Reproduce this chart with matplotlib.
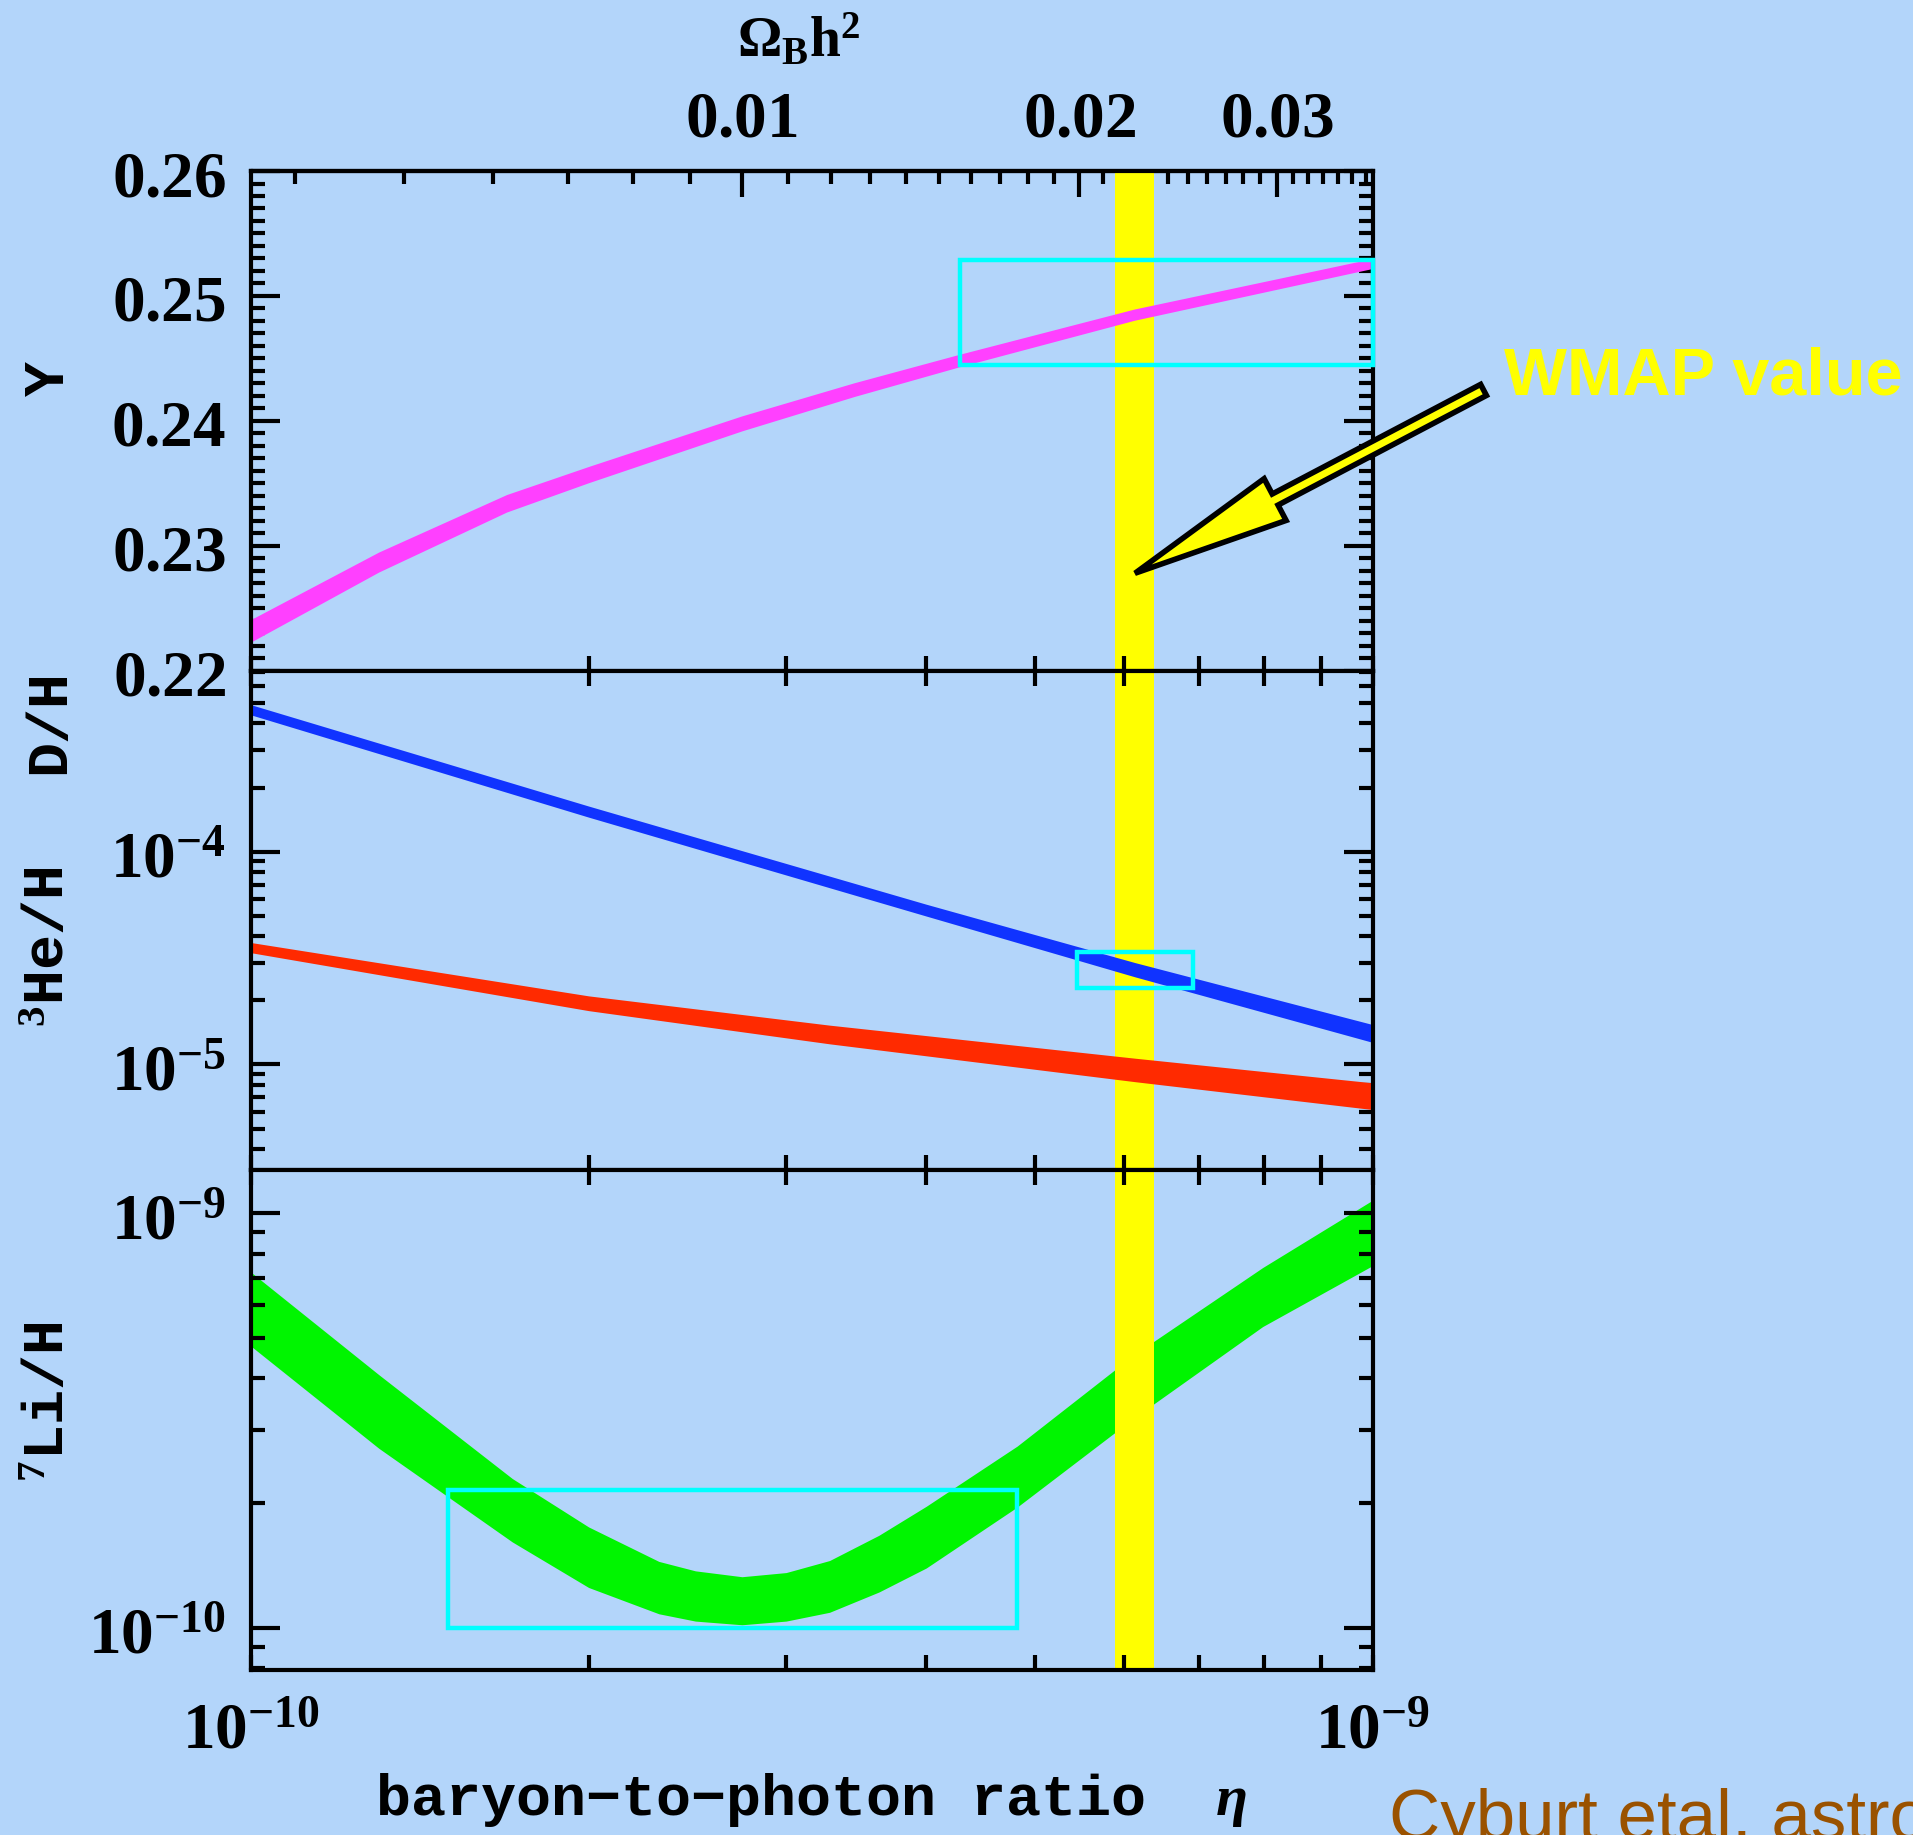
import matplotlib

matplotlib.use("Agg")

import matplotlib.pyplot as plt
import numpy as np
from matplotlib.patches import Rectangle
from matplotlib.ticker import FixedLocator, FuncFormatter, LogLocator, MultipleLocator, NullFormatter

# baryon-to-photon ratio eta is given in units of 1e-10 throughout
ETA_UNIT = 1e-10
ETA_PER_OMEGA = 273.9e-10  # eta = 273.9e-10 * Omega_B h^2

# 4He mass fraction Y (band centre and half width)
eta_he4 = [1.0, 1.3, 1.69, 2.0, 2.74, 3.45, 4.27, 6.13, 10.0]
Y_mid = [0.2232, 0.2287, 0.2334, 0.2357, 0.2398, 0.2425, 0.2448, 0.2485, 0.2526]
Y_err = [0.0009, 0.0008, 0.0007, 0.00065, 0.0006, 0.00055, 0.0005, 0.00045, 0.0004]

# D/H band edges
eta_d = [1.0, 2.0, 4.0, 6.14, 10.0]
DH_lo = [4.39e-4, 1.452e-4, 4.98e-5, 2.58e-5, 1.27e-5]
DH_hi = [4.90e-4, 1.637e-4, 5.66e-5, 3.01e-5, 1.54e-5]

# 3He/H band edges
eta_he3 = [1.0, 2.0, 3.28, 6.14, 10.0]
He3_lo = [3.35e-5, 1.79e-5, 1.25e-5, 8.30e-6, 6.14e-6]
He3_hi = [3.74e-5, 2.10e-5, 1.53e-5, 1.07e-5, 8.20e-6]

# 7Li/H band edges, units of 1e-10
eta_li = [1.0, 1.3, 1.71, 2.0, 2.31, 2.49, 2.74, 3.0, 3.28, 3.63, 4.0, 4.82, 6.13, 7.98, 10.0]
Li_lo = [4.78, 2.71, 1.61, 1.25, 1.08, 1.037, 1.016, 1.037, 1.089, 1.219, 1.393, 1.954,
         3.21, 5.33, 7.48]
Li_hi = [7.21, 4.08, 2.29, 1.75, 1.445, 1.371, 1.327, 1.358, 1.452, 1.671, 1.963, 2.742,
         4.56, 7.40, 10.76]

# WMAP eta and its error
wmap_eta = 6.14
wmap_err = 0.25

# observed abundance boxes: eta range (1e-10) and abundance range
Y_box_eta = [4.29, 10.0]
Y_box_val = [0.2445, 0.2529]
DH_box_eta = [5.45, 6.92]
DH_box_val = [2.29e-5, 3.36e-5]
Li_box_eta = [1.497, 4.82]
Li_box_val = [1.0e-10, 2.15e-10]

omega_major = [0.01, 0.02, 0.03]
omega_minor = [k / 1000 for k in range(4, 37)]

BG = "#b3d5fa"
C_Y = "#ff40ff"
C_D = "#1033ff"
C_HE3 = "#ff2a00"
C_LI = "#00f500"
C_WMAP = "#ffff00"
C_BOX = "#00ffff"

plt.rcParams["mathtext.fontset"] = "custom"
plt.rcParams["mathtext.rm"] = "Liberation Serif:bold"
plt.rcParams["mathtext.it"] = "Liberation Serif:italic:bold"
plt.rcParams["mathtext.bf"] = "Liberation Serif:bold"

LABEL_FONT = dict(family=["Liberation Mono", "DejaVu Sans Mono"], weight="bold", fontsize=42)
TICK_SIZE = 47


def eta(values):
    return np.asarray(values) * ETA_UNIT


def style_axes(ax):
    ax.set_facecolor(BG)
    for spine in ax.spines.values():
        spine.set_linewidth(3)
    ax.tick_params(axis="x", which="both", direction="in", top=True, bottom=True,
                   length=11, width=3, labelsize=TICK_SIZE)
    ax.tick_params(axis="y", which="major", direction="in", left=True, right=True,
                   length=21, width=3, pad=18, labelsize=TICK_SIZE)
    ax.tick_params(axis="y", which="minor", direction="in", left=True, right=True,
                   length=10, width=3)
    ax.xaxis.set_minor_locator(LogLocator(base=10, subs=np.arange(2, 10), numticks=12))
    ax.xaxis.set_minor_formatter(NullFormatter())


def power_label(v, _pos):
    return f"$10^{{{int(round(np.log10(v)))}}}$"


def add_box(ax, eta_range, val_range):
    x0, x1 = eta(eta_range)
    rect = Rectangle((x0, val_range[0]), x1 - x0, val_range[1] - val_range[0],
                     fill=False, ec=C_BOX, lw=3.2, zorder=5, clip_on=False)
    ax.add_patch(rect)


fig = plt.figure(figsize=(19.13, 18.35), dpi=100, facecolor=BG)
gs = fig.add_gridspec(3, 1, left=0.1312, right=0.7175, bottom=0.0899, top=0.9068, hspace=0)
ax_y, ax_dh, ax_li = gs.subplots(sharex=True)

for ax in (ax_y, ax_dh, ax_li):
    ax.set_xscale("log")
    style_axes(ax)
    ax.axvspan((wmap_eta - wmap_err) * ETA_UNIT, (wmap_eta + wmap_err) * ETA_UNIT,
               color=C_WMAP, lw=0, zorder=1.5)
ax_li.set_xlim(1e-10, 1e-9)

# --- Y panel ---
Y_mid_a = np.array(Y_mid)
Y_err_a = np.array(Y_err)
ax_y.fill_between(eta(eta_he4), Y_mid_a - Y_err_a, Y_mid_a + Y_err_a, color=C_Y, lw=0, zorder=2)
ax_y.set_ylim(0.22, 0.26)
ax_y.yaxis.set_major_locator(MultipleLocator(0.01))
ax_y.yaxis.set_minor_locator(MultipleLocator(0.001))
ax_y.yaxis.set_major_formatter(FuncFormatter(lambda v, _p: f"${v:.2f}$"))
ax_y.tick_params(axis="x", which="both", top=False)
add_box(ax_y, Y_box_eta, Y_box_val)

# Omega_B h^2 scale along the top
ax_top = ax_y.secondary_xaxis("top", functions=(lambda e: e / ETA_PER_OMEGA,
                                                lambda o: o * ETA_PER_OMEGA))
ax_top.xaxis.set_major_locator(FixedLocator(omega_major))
ax_top.xaxis.set_minor_locator(FixedLocator(omega_minor))
ax_top.xaxis.set_major_formatter(FuncFormatter(lambda v, _p: f"${v:.2f}$"))
ax_top.xaxis.set_minor_formatter(NullFormatter())
ax_top.tick_params(axis="x", which="major", direction="in", length=19, width=3,
                   pad=15, labelsize=TICK_SIZE)
ax_top.tick_params(axis="x", which="minor", direction="in", length=9.5, width=3)
for spine in ax_top.spines.values():
    spine.set_linewidth(3)

# --- D/H and 3He/H panel ---
ax_dh.set_yscale("log")
ax_dh.fill_between(eta(eta_d), DH_lo, DH_hi, color=C_D, lw=0, zorder=2)
ax_dh.fill_between(eta(eta_he3), He3_lo, He3_hi, color=C_HE3, lw=0, zorder=2)
ax_dh.set_ylim(3.18e-6, 7.08e-4)
ax_dh.yaxis.set_major_locator(LogLocator(base=10, numticks=10))
ax_dh.yaxis.set_minor_locator(LogLocator(base=10, subs=np.arange(2, 10), numticks=12))
ax_dh.yaxis.set_major_formatter(FuncFormatter(power_label))
ax_dh.yaxis.set_minor_formatter(NullFormatter())
add_box(ax_dh, DH_box_eta, DH_box_val)

# --- 7Li/H panel ---
ax_li.set_yscale("log")
ax_li.fill_between(eta(eta_li), np.array(Li_lo) * 1e-10, np.array(Li_hi) * 1e-10,
                   color=C_LI, lw=0, zorder=1)
ax_li.set_ylim(7.9e-11, 1.27e-9)
ax_li.yaxis.set_major_locator(LogLocator(base=10, numticks=10))
ax_li.yaxis.set_minor_locator(LogLocator(base=10, subs=np.arange(2, 10), numticks=12))
ax_li.yaxis.set_major_formatter(FuncFormatter(power_label))
ax_li.yaxis.set_minor_formatter(NullFormatter())
ax_li.xaxis.set_major_formatter(FuncFormatter(power_label))
ax_li.tick_params(axis="x", which="major", pad=20)
add_box(ax_li, Li_box_eta, Li_box_val)

# axis labels
fig.text(0.0256, 0.794, "Y", rotation=90, ha="center", va="center", **LABEL_FONT)
fig.text(0.0256, 0.6068, "D/H", rotation=90, ha="center", va="center", **LABEL_FONT)
fig.text(0.0256, 0.4839, "$^{3}$He/H", rotation=90, ha="center", va="center", **LABEL_FONT)
fig.text(0.0256, 0.2360, "$^{7}$Li/H", rotation=90, ha="center", va="center", **LABEL_FONT)
fig.text(0.424, 0.0109, "baryon\u2212to\u2212photon ratio  $\\eta$", ha="center",
         va="baseline", **LABEL_FONT)
fig.text(0.4177, 0.969, r"$\Omega_{\mathrm{B}}\mathrm{h}^{2}$", ha="center",
         va="baseline", fontsize=40)

# WMAP pointer
ax_y.annotate("", xy=(wmap_eta * ETA_UNIT, 0.2278), xycoords="data",
              xytext=(0.7755, 0.7875), textcoords="figure fraction",
              annotation_clip=False, zorder=6,
              arrowprops=dict(arrowstyle="simple,head_length=1.14,head_width=0.34,tail_width=0.09",
                              mutation_scale=100, fc=C_WMAP, ec="black", lw=4,
                              shrinkA=0, shrinkB=0, joinstyle="miter"))
fig.text(0.7862, 0.7851, "WMAP value", color=C_WMAP, fontsize=48, weight="bold",
         family="Liberation Sans", ha="left", va="baseline")

fig.text(0.7263, -0.0021, "Cyburt etal, astro", color="#9a5200", fontsize=51,
         family="Liberation Sans", ha="left", va="baseline")

fig.savefig("out.png", dpi=100, facecolor=BG)
